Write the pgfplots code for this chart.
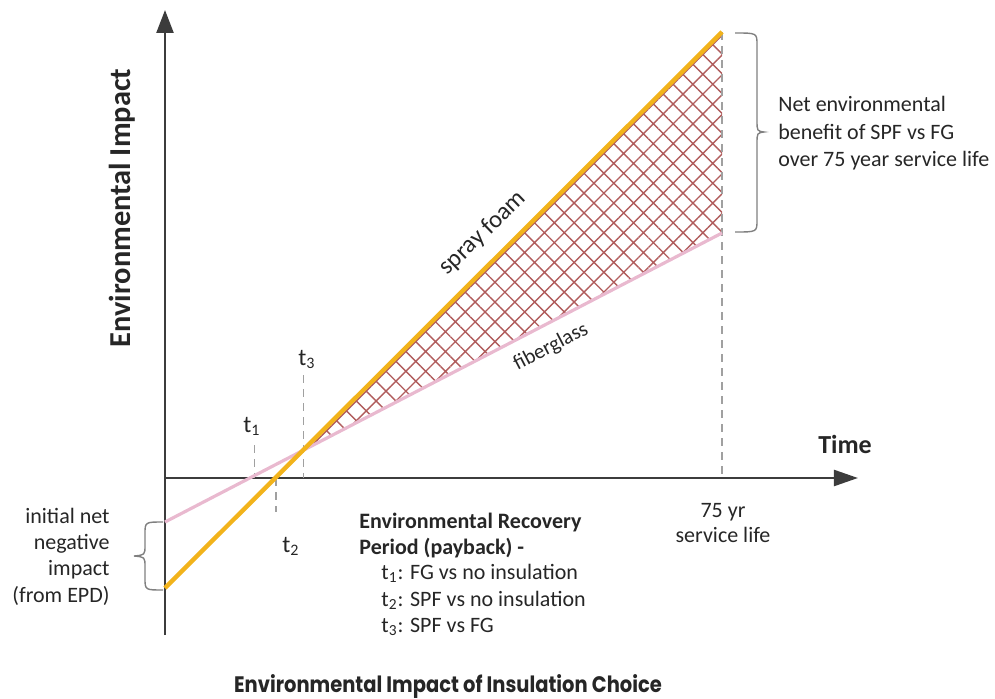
\documentclass[border=0pt]{standalone}
\usepackage{fontspec}
\setmainfont{Carlito}
\newfontfamily\poppins{Poppins}
\usepackage{pgfplots}
\pgfplotsset{compat=1.18}
\usetikzlibrary{patterns.meta,arrows.meta}
\definecolor{sfoam}{HTML}{F2B31B}
\definecolor{fglass}{HTML}{E9B9CF}
\definecolor{hatchc}{HTML}{B05C5C}
\definecolor{axisc}{HTML}{3C3C3C}
\definecolor{dashc}{HTML}{A0A0A0}
\definecolor{txt}{HTML}{262626}
\definecolor{bracec}{HTML}{808080}

\begin{document}
\begin{tikzpicture}
\begin{axis}[
    name=ax,
    at={(0,0)}, anchor=south west,
    scale only axis,
    width=497.5pt, height=349pt,
    xmin=-22.216, xmax=111.755,
    ymin=-44, ymax=95.6,
    hide axis,
    clip=false
]
% axes (time in years, impact in arbitrary units)
\addplot[axisc, line width=1.2pt, -{Triangle[length=11.5pt,width=8.5pt]}] coordinates {(0,-31.4) (0,93.6)};
\addplot[axisc, line width=1.2pt, -{Triangle[length=12pt,width=8pt]}] coordinates {(0,0) (93.3,0)};

% net benefit area between the two lines
\addplot[draw=none, pattern={Hatch[angle=45,distance=7pt,line width=0.7pt]}, pattern color=hatchc]
    coordinates {(18.54,5.49) (75,89.2) (75,49) (18.54,5.49)};

% payback markers
\addplot[dashc, line width=0.6pt, dash pattern=on 4pt off 3pt] coordinates {(12.1,6.6) (12.1,0)};
\addplot[dashc, line width=0.6pt, dash pattern=on 4pt off 3pt] coordinates {(14.95,0) (14.95,-6.8)};
\addplot[dashc, line width=0.6pt, dash pattern=on 4pt off 3pt] coordinates {(18.7,20.6) (18.7,0)};
\addplot[dashc, line width=0.6pt, dash pattern=on 4pt off 3pt] coordinates {(75,89.2) (75,0)};

% fiberglass and spray foam
\addplot[fglass, line width=1.6pt] coordinates {(0,-8.8) (75,49)};
\addplot[sfoam, line width=2.2pt] coordinates {(0,-22) (75,89.2)};
\end{axis}

\begin{scope}[shift={(ax.north west)}, x=0.5pt, y=-0.5pt,
    every node/.style={inner sep=0pt, text=txt, font=\fontsize{11}{13}\selectfont}]
\node[rotate=90, font=\bfseries\fontsize{15.2}{18}\selectfont] at (122,208) {Environmental Impact};
\node[anchor=base, font=\bfseries\fontsize{13}{16}\selectfont] at (845,453) {Time};

\node[rotate=44, font=\fontsize{12.3}{15}\selectfont] at (483,233) {spray foam};
\node[rotate=27.4, font=\fontsize{10.5}{13}\selectfont] at (551,347) {fiberglass};

\node[anchor=base west, font=\fontsize{12}{14}\selectfont] at (243,432) {t\textsubscript{1}};
\node[anchor=base west, font=\fontsize{12}{14}\selectfont] at (282,552) {t\textsubscript{2}};
\node[anchor=base west, font=\fontsize{12}{14}\selectfont] at (298,365) {t\textsubscript{3}};

\node[anchor=base west] at (778,111) {Net environmental};
\node[anchor=base west] at (778,139) {benefit of SPF vs FG};
\node[anchor=base west] at (778,166) {over 75 year service life};

\node[anchor=base east] at (110,523) {initial net};
\node[anchor=base east] at (110,549) {negative};
\node[anchor=base east] at (110,575) {impact};
\node[anchor=base east] at (110,602) {(from EPD)};

\node[anchor=base west, font=\bfseries\fontsize{11}{13}\selectfont] at (359,528) {Environmental Recovery};
\node[anchor=base west, font=\bfseries\fontsize{11}{13}\selectfont] at (359,554) {Period (payback) -};
\node[anchor=base west] at (381,579) {t\textsubscript{1}: FG vs no insulation};
\node[anchor=base west] at (381,606) {t\textsubscript{2}: SPF vs no insulation};
\node[anchor=base west] at (381,632) {t\textsubscript{3}: SPF vs FG};

\node[anchor=base] at (723,517) {75 yr};
\node[anchor=base] at (723,542) {service life};

\node[anchor=base] at (448,692) {\scalebox{0.87}[1]{\poppins\bfseries\fontsize{11.2}{13}\selectfont Environmental Impact of Insulation Choice}};

% braces
\draw[bracec, line width=0.7pt] (735,33) .. controls (757,33) .. (757,45) -- (757,120)
    .. controls (757,131) .. (764,132) .. controls (757,133) .. (757,144) -- (757,220)
    .. controls (757,232) .. (735,232);
\draw[bracec, line width=0.7pt] (163,522) .. controls (145,522) .. (145,534) -- (145,545)
    .. controls (145,555) .. (134,556) .. controls (145,557) .. (145,567) -- (145,578)
    .. controls (145,590) .. (163,590);
\end{scope}

\pgfresetboundingbox
\path[use as bounding box] (ax.south west) rectangle (ax.north east);
\end{tikzpicture}
\end{document}
